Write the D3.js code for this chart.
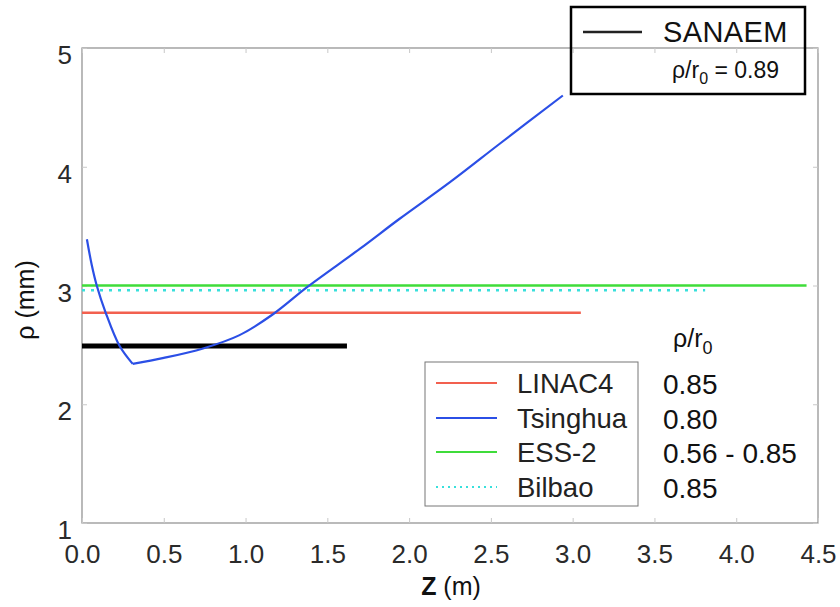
<!DOCTYPE html>
<html><head><meta charset="utf-8">
<script src="https://cdn.jsdelivr.net/npm/d3@7"></script>
<style>body{margin:0;background:#fff;} svg{display:block;font-family:"Liberation Sans",Arial,sans-serif;}</style>
</head><body>
<svg id="c" width="840" height="607"></svg>
<script>
// ---- data ----
const xTicks = [0, 0.5, 1.0, 1.5, 2.0, 2.5, 3.0, 3.5, 4.0, 4.5];
const yTicks = [1, 2, 3, 4, 5];
const seriesNames = ["LINAC4", "Tsinghua", "ESS-2", "Bilbao"];
const seriesRatios = ["0.85", "0.80", "0.56 - 0.85", "0.85"];
const seriesColors = ["#f2604f", "#2b4fe6", "#3fdc3a", "#38e0dc"];
const linac4Z = [0, 3.05];
const linac4Rho = [2.77, 2.77];
const ess2Z = [0, 4.43];
const ess2Rho = [3.0, 3.0];
const bilbaoZ = [0, 3.81];
const bilbaoRho = [2.96, 2.96];
const tsinghuaDescZ = [0.03, 0.06, 0.09, 0.145, 0.23, 0.31];
const tsinghuaDescRho = [3.39, 3.17, 3.00, 2.77, 2.49, 2.34];
const tsinghuaRiseZ = [0.31, 0.5, 0.74, 0.96, 1.17, 1.38, 1.70, 1.94, 2.25, 2.56, 2.94];
const tsinghuaRiseRho = [2.34, 2.39, 2.47, 2.58, 2.76, 2.99, 3.31, 3.56, 3.87, 4.20, 4.60];
const sanaemZ = [0, 1.62];
const sanaemRho = [2.49, 2.49];
const sanaemName = "SANAEM";
const sanaemRatio = "0.89";

// ---- layout ----
const svg = d3.select("#c");
const L = 82, R = 818, T = 48, B = 523;
const x = d3.scaleLinear().domain([0, 4.5]).range([L, R]);
const y = d3.scaleLinear().domain([1, 5]).range([B, T]);
const gray = "#8c8c8c";
const FONT = "'Liberation Sans',Arial,sans-serif";

// frame
svg.append("rect").attr("x", L).attr("y", T).attr("width", R - L).attr("height", B - T)
  .attr("fill", "none").attr("stroke", gray).attr("stroke-width", 1.2);

// axes (inward ticks)
const xb = svg.append("g").attr("transform", `translate(0,${B})`)
  .call(d3.axisBottom(x).tickValues(xTicks).tickSize(-5).tickFormat(d3.format(".1f")));
const xt = svg.append("g").attr("transform", `translate(0,${T})`)
  .call(d3.axisTop(x).tickValues(xTicks).tickSize(-5).tickFormat(""));
const yl = svg.append("g").attr("transform", `translate(${L},0)`)
  .call(d3.axisLeft(y).tickValues(yTicks).tickSize(-5).tickPadding(10).tickFormat(d3.format("d")));
const yr = svg.append("g").attr("transform", `translate(${R},0)`)
  .call(d3.axisRight(y).tickValues(yTicks).tickSize(-5).tickFormat(""));
[xb, xt, yl, yr].forEach(g => {
  g.select(".domain").remove();
  g.selectAll(".tick line").attr("stroke", "#c8c8c8").attr("stroke-width", 1);
  g.selectAll("text").attr("fill", "#2a2a2a").attr("font-size", 26).attr("font-family", FONT);
});
xb.selectAll("text").attr("dy", "0.71em").attr("y", 22);
yl.selectAll("text").attr("dy", "0.6em");

// axis titles
const xl = svg.append("text").attr("x", (L + R) / 2 + 1).attr("y", 595).attr("text-anchor", "middle")
  .attr("font-size", 25).attr("fill", "#111");
xl.append("tspan").attr("font-weight", "bold").text("Z");
xl.append("tspan").text(" (m)");
svg.append("text").attr("transform", "translate(34,300) rotate(-90)").attr("text-anchor", "middle")
  .attr("font-size", 25).attr("fill", "#111").text("ρ (mm)");

// lines
const line = d3.line().x(d => x(d[0])).y(d => y(d[1]));
const zip = (a, b) => a.map((v, i) => [v, b[i]]);
svg.append("path").datum(zip(ess2Z, ess2Rho)).attr("d", line)
  .attr("fill", "none").attr("stroke", seriesColors[2]).attr("stroke-width", 2.6);
svg.append("path").datum(zip(bilbaoZ, bilbaoRho)).attr("d", line)
  .attr("fill", "none").attr("stroke", seriesColors[3]).attr("stroke-width", 2.6).attr("stroke-dasharray", "3,6");
svg.append("path").datum(zip(linac4Z, linac4Rho)).attr("d", line)
  .attr("fill", "none").attr("stroke", seriesColors[0]).attr("stroke-width", 2.6);
svg.append("path").datum(zip(sanaemZ, sanaemRho)).attr("d", line)
  .attr("fill", "none").attr("stroke", "#000").attr("stroke-width", 5);
const smooth = d3.line().x(d => x(d[0])).y(d => y(d[1])).curve(d3.curveCatmullRom.alpha(0.5));
svg.append("path").datum(zip(tsinghuaDescZ, tsinghuaDescRho)).attr("d", smooth)
  .attr("fill", "none").attr("stroke", seriesColors[1]).attr("stroke-width", 2.2).attr("stroke-linejoin", "round");
svg.append("path").datum(zip(tsinghuaRiseZ, tsinghuaRiseRho)).attr("d", smooth)
  .attr("fill", "none").attr("stroke", seriesColors[1]).attr("stroke-width", 2.2).attr("stroke-linejoin", "round");

// top-right SANAEM legend
svg.append("rect").attr("x", 571).attr("y", 7).attr("width", 234).attr("height", 87)
  .attr("fill", "none").attr("stroke", "#000").attr("stroke-width", 2.5);
svg.append("line").attr("x1", 583).attr("x2", 642).attr("y1", 32).attr("y2", 32)
  .attr("stroke", "#222").attr("stroke-width", 2.5);
svg.append("text").attr("x", 663).attr("y", 42).attr("font-size", 29).attr("fill", "#111")
  .attr("letter-spacing", 0.4).text(sanaemName);
const tr = svg.append("text").attr("x", 672).attr("y", 78).attr("font-size", 23).attr("fill", "#111");
tr.append("tspan").text("ρ/r");
tr.append("tspan").attr("font-size", 16).attr("dy", 6).text("0");
tr.append("tspan").attr("dy", -6).text(" = " + sanaemRatio);

// bottom legend
svg.append("rect").attr("x", 425).attr("y", 362).attr("width", 213).attr("height", 144)
  .attr("fill", "#fff").attr("stroke", "#777").attr("stroke-width", 1);
const rowY = [383, 418, 452, 487];
seriesNames.forEach((n, i) => {
  const ln = svg.append("line").attr("x1", 436).attr("x2", 497).attr("y1", rowY[i]).attr("y2", rowY[i])
    .attr("stroke", seriesColors[i]).attr("stroke-width", 2.2);
  if (i === 3) ln.attr("stroke-dasharray", "2,4");
  svg.append("text").attr("x", 517).attr("y", rowY[i] + 10).attr("font-size", 27.5).attr("fill", "#222").text(n);
  svg.append("text").attr("x", 663).attr("y", rowY[i] + 11).attr("font-size", 28).attr("fill", "#111").text(seriesRatios[i]);
});
const hd = svg.append("text").attr("x", 673).attr("y", 347).attr("font-size", 25).attr("fill", "#111");
hd.append("tspan").text("ρ/r");
hd.append("tspan").attr("font-size", 18).attr("dy", 7).text("0");
</script>
</body></html>
